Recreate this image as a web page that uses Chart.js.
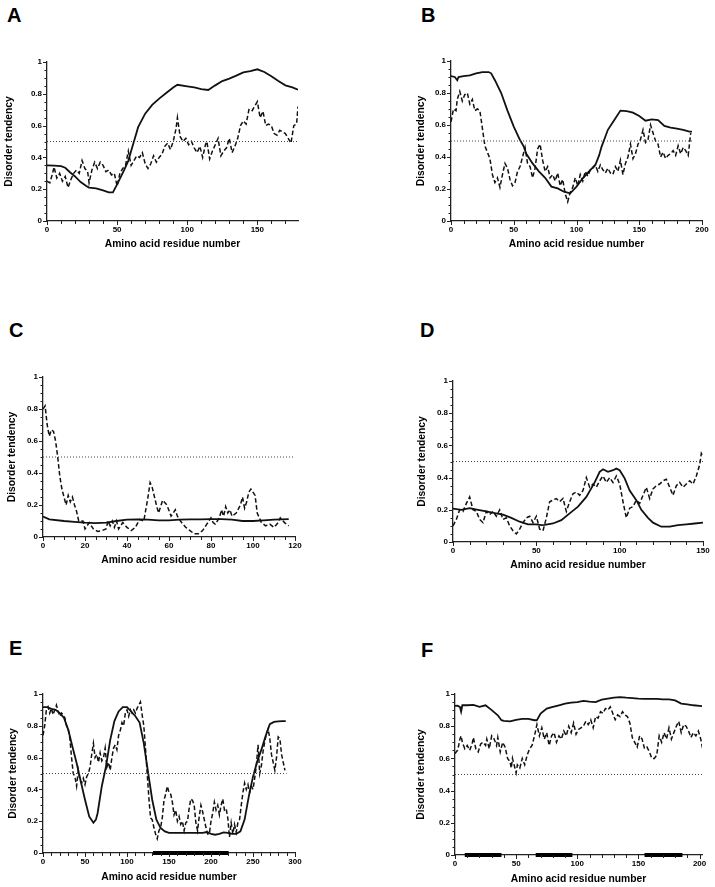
<!DOCTYPE html>
<html>
<head>
<meta charset="utf-8">
<script src="https://cdn.jsdelivr.net/npm/chart.js@4.4.0/dist/chart.umd.min.js"></script>
<style>
  html, body { margin: 0; padding: 0; background: #fff; }
  body { position: relative; width: 715px; height: 887px; overflow: hidden; font-family: "Liberation Sans", Arial, sans-serif; }
  .letter { position: absolute; font-weight: bold; font-size: 20px; line-height: 20px; color: #000; }
  canvas { position: absolute; }
</style>
</head>
<body>
<div class="letter" style="left:7px;top:5px">A</div>
<div class="letter" style="left:421px;top:5px">B</div>
<div class="letter" style="left:9px;top:320px">C</div>
<div class="letter" style="left:420px;top:320px">D</div>
<div class="letter" style="left:9px;top:638px">E</div>
<div class="letter" style="left:421px;top:640px">F</div>
<canvas id="chartA"></canvas>
<canvas id="chartB"></canvas>
<canvas id="chartC"></canvas>
<canvas id="chartD"></canvas>
<canvas id="chartE"></canvas>
<canvas id="chartF"></canvas>
<script>
// [residue, disorder] pairs
const solidA = [[0,0.35],[5,0.348],[10,0.345],[13,0.335],[16,0.31],[20,0.28],[24,0.245],[28,0.22],[30,0.21],[35,0.205],[40,0.192],[44,0.18],[47,0.18],[50,0.23],[55,0.32],[58,0.38],[60,0.44],[62,0.5],[65,0.59],[70,0.675],[75,0.73],[80,0.77],[85,0.805],[90,0.84],[93,0.857],[100,0.847],[105,0.84],[110,0.83],[115,0.824],[120,0.853],[125,0.88],[130,0.895],[135,0.914],[140,0.935],[145,0.943],[150,0.954],[155,0.937],[160,0.91],[165,0.88],[170,0.853],[175,0.84],[179,0.826]];
const dashedA = [[0,0.25],[2,0.24],[4,0.3],[5,0.34],[7,0.27],[9,0.3],[11,0.25],[13,0.28],[15,0.21],[17,0.26],[19,0.3],[21,0.32],[23,0.3],[25,0.38],[27,0.33],[29,0.31],[30,0.24],[32,0.32],[34,0.37],[36,0.33],[38,0.37],[40,0.35],[42,0.31],[44,0.32],[46,0.29],[48,0.3],[50,0.22],[52,0.3],[54,0.33],[56,0.35],[58,0.44],[60,0.35],[62,0.38],[64,0.41],[66,0.4],[68,0.43],[70,0.36],[72,0.33],[74,0.36],[76,0.41],[78,0.37],[80,0.4],[82,0.42],[84,0.47],[86,0.49],[88,0.45],[90,0.5],[92,0.58],[93,0.65],[95,0.53],[97,0.5],[99,0.52],[101,0.48],[103,0.5],[105,0.46],[107,0.43],[109,0.47],[111,0.4],[113,0.48],[114,0.5],[116,0.39],[118,0.44],[120,0.48],[122,0.52],[124,0.41],[126,0.44],[128,0.46],[130,0.52],[132,0.43],[134,0.47],[136,0.52],[138,0.6],[140,0.63],[142,0.61],[144,0.7],[146,0.69],[148,0.72],[150,0.75],[152,0.65],[154,0.69],[156,0.6],[158,0.61],[160,0.6],[162,0.55],[164,0.54],[166,0.57],[168,0.56],[170,0.55],[172,0.52],[174,0.49],[176,0.6],[178,0.61],[179,0.72]];

const solidB = [[0,0.906],[3,0.9],[5,0.88],[6,0.9],[10,0.906],[15,0.91],[20,0.923],[25,0.931],[30,0.931],[32,0.923],[35,0.88],[40,0.8],[45,0.69],[50,0.59],[55,0.506],[58,0.465],[60,0.42],[65,0.36],[70,0.31],[75,0.27],[80,0.215],[85,0.204],[90,0.183],[95,0.173],[100,0.215],[105,0.267],[110,0.31],[115,0.35],[118,0.41],[120,0.465],[122,0.506],[125,0.57],[130,0.63],[135,0.69],[140,0.687],[145,0.677],[150,0.656],[155,0.627],[160,0.635],[165,0.63],[170,0.594],[175,0.583],[180,0.577],[185,0.57],[190,0.558],[192,0.558]];
const dashedB = [[0,0.62],[2,0.7],[4,0.69],[5,0.76],[7,0.81],[9,0.75],[11,0.79],[13,0.8],[15,0.73],[17,0.76],[19,0.69],[21,0.7],[23,0.69],[25,0.58],[27,0.47],[29,0.43],[31,0.39],[33,0.29],[35,0.24],[37,0.27],[39,0.21],[41,0.29],[43,0.36],[45,0.33],[47,0.26],[49,0.22],[51,0.24],[53,0.31],[55,0.34],[57,0.4],[59,0.46],[61,0.36],[63,0.34],[65,0.27],[67,0.33],[69,0.45],[71,0.48],[73,0.38],[75,0.31],[77,0.34],[79,0.27],[81,0.29],[83,0.25],[85,0.3],[87,0.22],[89,0.26],[91,0.17],[93,0.12],[95,0.18],[97,0.21],[99,0.27],[101,0.22],[103,0.29],[105,0.25],[107,0.31],[109,0.28],[111,0.32],[113,0.33],[115,0.35],[117,0.31],[119,0.35],[121,0.32],[123,0.3],[125,0.33],[127,0.3],[129,0.29],[131,0.34],[133,0.31],[135,0.38],[137,0.29],[139,0.36],[141,0.4],[143,0.48],[145,0.39],[147,0.42],[149,0.48],[151,0.51],[153,0.57],[155,0.49],[157,0.51],[159,0.6],[161,0.55],[163,0.5],[165,0.48],[167,0.4],[169,0.43],[171,0.39],[173,0.41],[175,0.42],[177,0.44],[179,0.41],[181,0.47],[183,0.42],[185,0.46],[187,0.44],[189,0.41],[191,0.55]];

const solidC = [[0,0.128],[3,0.11],[10,0.1],[15,0.095],[20,0.09],[25,0.087],[30,0.09],[35,0.1],[40,0.108],[45,0.11],[50,0.108],[55,0.104],[60,0.104],[65,0.108],[70,0.11],[75,0.11],[80,0.112],[85,0.112],[90,0.108],[95,0.1],[100,0.1],[105,0.104],[110,0.108],[117,0.112]];
const dashedC = [[0,0.8],[1,0.82],[2,0.7],[3,0.63],[4,0.67],[5,0.66],[6,0.6],[7,0.5],[8,0.38],[9,0.3],[10,0.25],[11,0.2],[12,0.26],[13,0.22],[14,0.25],[15,0.2],[16,0.16],[17,0.1],[19,0.1],[20,0.05],[22,0.09],[24,0.05],[26,0.035],[28,0.04],[30,0.05],[31,0.1],[32,0.07],[33,0.1],[34,0.06],[35,0.1],[36,0.05],[38,0.09],[40,0.06],[42,0.04],[44,0.06],[46,0.11],[48,0.1],[50,0.25],[51,0.34],[52,0.31],[54,0.2],[55,0.15],[57,0.23],[59,0.2],[61,0.13],[63,0.17],[64,0.13],[66,0.09],[68,0.06],[70,0.04],[72,0.02],[74,0.02],[76,0.04],[78,0.08],[80,0.12],[81,0.09],[82,0.08],[84,0.12],[85,0.17],[86,0.13],[87,0.19],[88,0.15],[89,0.17],[90,0.13],[92,0.15],[94,0.2],[95,0.25],[96,0.18],[97,0.22],[98,0.28],[99,0.3],[101,0.26],[102,0.15],[104,0.09],[106,0.07],[108,0.08],[110,0.06],[112,0.09],[113,0.12],[115,0.09],[117,0.07]];

const solidD = [[0,0.207],[5,0.2],[10,0.21],[15,0.2],[20,0.19],[25,0.18],[30,0.17],[35,0.15],[40,0.126],[45,0.11],[50,0.11],[53,0.105],[55,0.106],[60,0.115],[65,0.136],[70,0.178],[75,0.22],[80,0.28],[85,0.37],[88,0.436],[90,0.452],[93,0.436],[96,0.446],[98,0.456],[100,0.446],[103,0.395],[106,0.32],[110,0.26],[113,0.2],[117,0.15],[120,0.12],[125,0.095],[130,0.095],[135,0.105],[140,0.11],[145,0.115],[150,0.12]];
const dashedD = [[0,0.1],[2,0.14],[4,0.2],[6,0.19],[8,0.24],[10,0.28],[12,0.2],[14,0.19],[16,0.14],[18,0.12],[20,0.19],[22,0.17],[24,0.19],[26,0.16],[28,0.2],[30,0.14],[32,0.15],[34,0.1],[36,0.07],[38,0.05],[40,0.08],[42,0.12],[44,0.15],[46,0.16],[48,0.12],[50,0.16],[52,0.08],[54,0.07],[56,0.15],[58,0.25],[60,0.26],[62,0.27],[64,0.25],[66,0.27],[68,0.19],[70,0.25],[72,0.3],[74,0.31],[76,0.29],[78,0.32],[80,0.4],[82,0.34],[84,0.36],[86,0.34],[88,0.38],[90,0.41],[92,0.37],[94,0.4],[96,0.37],[98,0.41],[100,0.36],[102,0.25],[104,0.15],[106,0.21],[108,0.22],[110,0.26],[112,0.24],[114,0.29],[116,0.34],[118,0.27],[120,0.33],[122,0.35],[124,0.36],[126,0.38],[128,0.39],[130,0.34],[132,0.29],[134,0.35],[136,0.37],[138,0.34],[140,0.36],[142,0.38],[144,0.36],[146,0.41],[148,0.48],[149,0.55],[150,0.53]];

const solidE = [[0,0.918],[5,0.917],[10,0.907],[15,0.9],[20,0.88],[25,0.85],[30,0.776],[35,0.67],[40,0.566],[45,0.45],[50,0.335],[55,0.23],[60,0.19],[63,0.21],[65,0.25],[70,0.42],[75,0.545],[80,0.71],[85,0.83],[90,0.89],[95,0.918],[100,0.918],[105,0.89],[110,0.86],[115,0.82],[120,0.69],[125,0.51],[130,0.335],[135,0.21],[140,0.157],[145,0.136],[150,0.126],[160,0.126],[170,0.126],[180,0.126],[190,0.126],[195,0.132],[200,0.12],[205,0.115],[210,0.12],[215,0.13],[220,0.126],[225,0.12],[230,0.12],[235,0.136],[240,0.21],[245,0.356],[250,0.48],[255,0.576],[260,0.65],[265,0.736],[270,0.81],[275,0.824],[280,0.828],[285,0.83],[289,0.83]];
const dashedE = [[0,0.74],[2,0.8],[4,0.9],[6,0.92],[8,0.88],[10,0.91],[12,0.87],[14,0.9],[16,0.93],[18,0.89],[20,0.86],[22,0.88],[24,0.87],[26,0.85],[28,0.8],[30,0.78],[32,0.72],[34,0.6],[36,0.5],[38,0.48],[40,0.42],[42,0.52],[44,0.46],[46,0.44],[48,0.47],[50,0.43],[52,0.48],[54,0.5],[56,0.54],[58,0.62],[60,0.69],[62,0.6],[64,0.62],[66,0.57],[68,0.63],[70,0.58],[72,0.6],[74,0.66],[76,0.54],[78,0.57],[80,0.52],[82,0.6],[84,0.66],[86,0.68],[88,0.65],[90,0.74],[92,0.77],[94,0.82],[96,0.8],[98,0.88],[100,0.9],[102,0.86],[104,0.9],[106,0.88],[108,0.9],[110,0.88],[112,0.91],[114,0.93],[116,0.95],[118,0.87],[120,0.8],[122,0.66],[124,0.5],[126,0.35],[128,0.22],[130,0.21],[132,0.16],[134,0.12],[136,0.09],[138,0.14],[140,0.16],[142,0.22],[144,0.33],[146,0.37],[148,0.42],[150,0.38],[152,0.37],[154,0.32],[156,0.24],[158,0.27],[160,0.2],[162,0.23],[164,0.18],[166,0.2],[168,0.14],[170,0.19],[172,0.2],[174,0.28],[176,0.34],[178,0.33],[180,0.3],[182,0.19],[184,0.14],[186,0.23],[188,0.3],[190,0.26],[192,0.21],[194,0.16],[196,0.12],[198,0.12],[200,0.2],[202,0.25],[204,0.32],[206,0.27],[208,0.3],[210,0.24],[212,0.3],[214,0.34],[216,0.27],[218,0.28],[220,0.22],[222,0.1],[224,0.19],[226,0.12],[228,0.18],[230,0.13],[232,0.19],[234,0.21],[236,0.3],[238,0.38],[240,0.44],[242,0.4],[244,0.43],[246,0.38],[248,0.42],[250,0.4],[252,0.47],[254,0.55],[256,0.68],[258,0.5],[260,0.55],[262,0.64],[264,0.7],[266,0.75],[268,0.78],[270,0.72],[272,0.62],[274,0.57],[276,0.52],[278,0.6],[280,0.73],[282,0.72],[284,0.62],[286,0.57],[288,0.52]];

const solidF = [[0,0.926],[2,0.928],[4,0.92],[5,0.89],[6,0.93],[10,0.93],[15,0.932],[20,0.92],[25,0.93],[30,0.9],[35,0.868],[38,0.837],[40,0.833],[45,0.83],[50,0.84],[55,0.845],[60,0.845],[65,0.837],[67,0.838],[70,0.878],[75,0.909],[80,0.92],[85,0.93],[90,0.94],[95,0.946],[100,0.95],[105,0.957],[110,0.953],[115,0.95],[120,0.965],[125,0.971],[130,0.977],[135,0.98],[140,0.977],[145,0.975],[150,0.971],[155,0.97],[160,0.97],[165,0.97],[170,0.967],[175,0.967],[180,0.96],[185,0.94],[190,0.936],[195,0.93],[200,0.926],[203,0.924]];
const dashedF = [[0,0.63],[2,0.65],[3,0.68],[4,0.72],[5,0.74],[6,0.7],[8,0.66],[10,0.68],[12,0.65],[14,0.69],[15,0.73],[17,0.66],[19,0.64],[21,0.69],[23,0.7],[25,0.68],[26,0.72],[28,0.66],[30,0.74],[32,0.72],[34,0.68],[35,0.73],[37,0.64],[39,0.7],[41,0.67],[43,0.6],[45,0.58],[46,0.54],[47,0.6],[48,0.57],[50,0.51],[51,0.56],[53,0.54],[55,0.6],[57,0.56],[59,0.62],[61,0.66],[63,0.68],[65,0.74],[67,0.81],[69,0.74],[71,0.79],[73,0.72],[75,0.76],[77,0.68],[79,0.74],[81,0.76],[83,0.7],[85,0.74],[87,0.72],[89,0.77],[91,0.74],[93,0.8],[95,0.76],[97,0.82],[99,0.75],[101,0.78],[103,0.79],[105,0.8],[107,0.83],[109,0.81],[111,0.84],[113,0.79],[115,0.86],[117,0.85],[119,0.89],[121,0.88],[123,0.91],[125,0.9],[127,0.92],[129,0.88],[131,0.84],[133,0.87],[135,0.86],[137,0.89],[139,0.87],[141,0.86],[143,0.82],[145,0.73],[147,0.7],[149,0.67],[151,0.74],[153,0.72],[155,0.66],[157,0.67],[159,0.64],[161,0.6],[163,0.6],[165,0.62],[167,0.74],[169,0.7],[171,0.76],[173,0.72],[175,0.79],[177,0.72],[179,0.76],[181,0.8],[183,0.83],[185,0.76],[187,0.81],[189,0.8],[191,0.77],[193,0.73],[195,0.76],[197,0.74],[199,0.77],[201,0.72],[203,0.64]];

// thick bars on the x axis: [start, end] residue ranges
const barsE = [[131, 221]];
const barsF = [[8, 38], [66, 96], [155, 186]];

// per panel A..F: axis end, minor/major x tick steps, end of the 0.5 cutoff line
const xMaxes = [179, 200, 120, 150, 300, 202];
const xMinorSteps = [10, 10, 5, 10, 10, 10];
const xMajorSteps = [50, 50, 20, 50, 50, 50];
const cutoffEnds = [179, 192, 120, 150, 290, 202];
const cutoffValue = 0.5;

const Y_TITLE = 'Disorder tendency';
const X_TITLE = 'Amino acid residue number';

const PAD_L = 45, PAD_T = 10, PAD_R = 12, PAD_B = 40;
const FONT = '"Liberation Sans", Arial, Helvetica, sans-serif';

function isMultiple(v, step) {
    const r = v / step;
    return Math.abs(r - Math.round(r)) < 1e-6;
}

// short minor / longer major tick marks, drawn outside the axes
const tickMarks = {
    id: 'tickMarks',
    afterDraw(chart, args, opts) {
        const ctx = chart.ctx;
        const xs = chart.scales.x, ys = chart.scales.y;
        ctx.save();
        ctx.strokeStyle = '#222';
        ctx.lineWidth = 1;
        ctx.beginPath();
        ys.ticks.forEach(t => {
            const y = Math.round(ys.getPixelForValue(t.value)) + 0.5;
            const len = isMultiple(t.value, 0.2) ? 4 : 2.5;
            ctx.moveTo(ys.right - len, y);
            ctx.lineTo(ys.right, y);
        });
        xs.ticks.forEach(t => {
            const x = Math.round(xs.getPixelForValue(t.value)) + 0.5;
            const len = isMultiple(t.value, opts.major) ? 4 : 3;
            ctx.moveTo(x, xs.top);
            ctx.lineTo(x, xs.top + len);
        });
        ctx.stroke();
        ctx.restore();
    }
};

function toPoints(pairs) {
    return pairs.map(p => ({ x: p[0], y: p[1] }));
}

function buildPanel(id, box, yGap, xGap, idx, solid, dashed, bars) {
    const canvas = document.getElementById(id);
    const w = (box.r - box.l) + PAD_L + PAD_R;
    const h = (box.b - box.t) + PAD_T + PAD_B;
    canvas.width = w;
    canvas.height = h;
    canvas.style.left = (box.l - PAD_L) + 'px';
    canvas.style.top = (box.t - PAD_T) + 'px';

    const titleSize = 10.3;
    const lh = titleSize * 1.2;

    const datasets = [
        {
            data: [{ x: 0, y: cutoffValue }, { x: cutoffEnds[idx], y: cutoffValue }],
            borderColor: '#444',
            borderWidth: 1,
            borderDash: [1, 2],
        },
        {
            data: toPoints(dashed),
            borderColor: '#111',
            borderWidth: 1.5,
            borderDash: [4.5, 2.5],
        },
        {
            data: toPoints(solid),
            borderColor: '#111',
            borderWidth: 1.8,
        }
    ];
    (bars || []).forEach(b => {
        datasets.push({
            data: [{ x: b[0], y: 0 }, { x: b[1], y: 0 }],
            borderColor: '#000',
            borderWidth: 4,
            borderCapStyle: 'butt',
            clip: false,
        });
    });

    return new Chart(canvas.getContext('2d'), {
        type: 'line',
        data: { datasets },
        options: {
            responsive: false,
            animation: false,
            events: [],
            layout: { padding: { left: 0, top: PAD_T, right: PAD_R, bottom: 0 } },
            elements: {
                point: { radius: 0 },
                line: { tension: 0, fill: false }
            },
            plugins: {
                legend: { display: false },
                tooltip: { enabled: false },
                tickMarks: { major: xMajorSteps[idx] }
            },
            scales: {
                x: {
                    type: 'linear',
                    min: 0,
                    max: xMaxes[idx],
                    grid: { display: false, drawTicks: false },
                    border: { display: true, color: '#222', width: 1.3 },
                    ticks: {
                        stepSize: xMinorSteps[idx],
                        includeBounds: false,
                        autoSkip: false,
                        maxRotation: 0,
                        padding: 4,
                        color: '#000',
                        font: { family: FONT, size: 8, weight: 'bold' },
                        callback: v => isMultiple(v, xMajorSteps[idx]) ? String(Math.round(v)) : ''
                    },
                    title: {
                        display: true,
                        text: X_TITLE,
                        color: '#000',
                        font: { family: FONT, size: titleSize, weight: 'bold' },
                        padding: { top: 0, bottom: PAD_B - xGap - lh / 2 }
                    },
                    afterFit: s => { s.height = PAD_B; }
                },
                y: {
                    min: 0,
                    max: 1,
                    grid: { display: false, drawTicks: false },
                    border: { display: true, color: '#222', width: 1.3 },
                    ticks: {
                        stepSize: 0.05,
                        autoSkip: false,
                        padding: 5,
                        color: '#000',
                        font: { family: FONT, size: 8, weight: 'bold' },
                        callback: v => isMultiple(v, 0.2) ? String(Math.round(v * 10) / 10) : ''
                    },
                    title: {
                        display: true,
                        text: Y_TITLE,
                        color: '#000',
                        font: { family: FONT, size: titleSize, weight: 'bold' },
                        padding: { top: PAD_L - yGap - lh / 2, bottom: 0 }
                    },
                    afterFit: s => { s.width = PAD_L; }
                }
            }
        },
        plugins: [tickMarks]
    });
}

buildPanel('chartA', { l: 47, t: 62, r: 298, b: 221 }, 38, 23, 0, solidA, dashedA);
buildPanel('chartB', { l: 451, t: 61, r: 702, b: 221 }, 30, 23, 1, solidB, dashedB);
buildPanel('chartC', { l: 43, t: 377, r: 295, b: 537 }, 31, 23, 2, solidC, dashedC);
buildPanel('chartD', { l: 453, t: 381, r: 703, b: 542 }, 31, 23, 3, solidD, dashedD);
buildPanel('chartE', { l: 43, t: 694, r: 295, b: 853 }, 30, 24, 4, solidE, dashedE, barsE);
buildPanel('chartF', { l: 455, t: 694, r: 702, b: 855 }, 34, 24, 5, solidF, dashedF, barsF);
</script>
</body>
</html>
